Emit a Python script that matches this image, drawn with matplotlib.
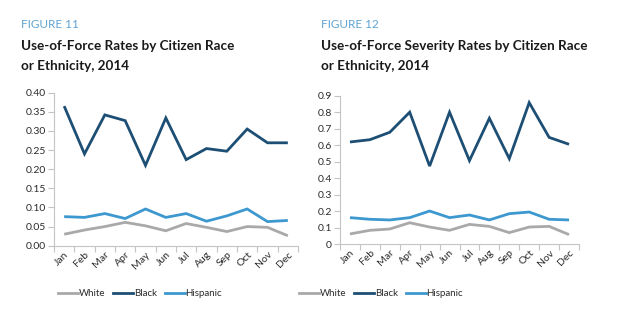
import matplotlib
matplotlib.use("Agg")
import matplotlib.pyplot as plt
from matplotlib.lines import Line2D

months = ["Jan", "Feb", "Mar", "Apr", "May", "Jun", "Jul", "Aug", "Sep", "Oct", "Nov", "Dec"]

# Figure 11: Use-of-force rates
rate_white = [0.030, 0.041, 0.050, 0.061, 0.052, 0.039, 0.058, 0.048, 0.037, 0.050, 0.048, 0.026]
rate_black = [0.365, 0.240, 0.342, 0.327, 0.210, 0.334, 0.225, 0.254, 0.247, 0.305, 0.269, 0.269]
rate_hisp = [0.076, 0.074, 0.084, 0.071, 0.096, 0.074, 0.084, 0.064, 0.078, 0.096, 0.063, 0.066]
rate_ticks = [0.00, 0.05, 0.10, 0.15, 0.20, 0.25, 0.30, 0.35, 0.40]
rate_ticklabels = ["0.00", "0.05", "0.10", "0.15", "0.20", "0.25", "0.30", "0.35", "0.40"]

# Figure 12: Use-of-force severity rates
sev_white = [0.061, 0.083, 0.091, 0.129, 0.103, 0.083, 0.119, 0.107, 0.069, 0.103, 0.107, 0.057]
sev_black = [0.619, 0.633, 0.678, 0.800, 0.473, 0.800, 0.506, 0.763, 0.518, 0.858, 0.647, 0.605]
sev_hisp = [0.160, 0.150, 0.146, 0.160, 0.200, 0.160, 0.176, 0.146, 0.184, 0.194, 0.150, 0.146]
sev_ticks = [0, 0.1, 0.2, 0.3, 0.4, 0.5, 0.6, 0.7, 0.8, 0.9]
sev_ticklabels = ["0", "0.1", "0.2", "0.3", "0.4", "0.5", "0.6", "0.7", "0.8", "0.9"]

series_names = ["White", "Black", "Hispanic"]
colors = ["#a9a9a9", "#1d4e74", "#3d98cf"]

FONT = "Lato"
plt.rcParams["font.family"] = [FONT, "DejaVu Sans"]
text_color = "#2b2b2b"
spine_color = "#c4c4c4"

fig = plt.figure(figsize=(6.2, 3.21), dpi=100)
W, H = 620, 321


def ax_rect(l, r, t, b):
    return [l / W, 1 - b / H, (r - l) / W, (b - t) / H]


def draw(ax, white, black, hisp, ticks, ticklabels, ymax):
    x = list(range(len(months)))
    for vals, c in zip([white, black, hisp], colors):
        ax.plot(x, vals, color=c, lw=2.0, solid_joinstyle="miter", solid_capstyle="butt")
    ax.set_xlim(-0.5, len(months) - 0.5)
    ax.set_ylim(0, ymax)
    ax.set_yticks(ticks)
    ax.set_yticklabels(ticklabels, fontsize=7.5, color=text_color)
    ax.set_xticks([i - 0.5 for i in range(len(months) + 1)])
    ax.set_xticklabels([])
    ax.set_xticks(x, minor=True)
    ax.set_xticklabels(months, minor=True, rotation=45, ha="right", va="top",
                       rotation_mode="anchor", fontsize=7.5, color=text_color)
    ax.tick_params(axis="x", which="minor", length=0, pad=3)
    ax.tick_params(axis="x", which="major", length=4, color=spine_color, width=0.8)
    ax.tick_params(axis="y", length=4, color=spine_color, width=0.8, pad=2)
    for s in ["top", "right"]:
        ax.spines[s].set_visible(False)
    for s in ["left", "bottom"]:
        ax.spines[s].set_color(spine_color)
        ax.spines[s].set_linewidth(0.8)
    ax.set_facecolor("none")


ax1 = fig.add_axes(ax_rect(54, 298, 92.7, 245.7))
draw(ax1, rate_white, rate_black, rate_hisp, rate_ticks, rate_ticklabels, 0.40)
ax2 = fig.add_axes(ax_rect(340, 579, 95.7, 244))
draw(ax2, sev_white, sev_black, sev_hisp, sev_ticks, sev_ticklabels, 0.9)

# Titles
fig_blue = "#5fa3d3"
fig.text(21 / W, 1 - 24 / H, "FIGURE 11", color=fig_blue, fontsize=8.5, va="center", ha="left")
fig.text(21 / W, 1 - 46 / H, "Use-of-Force Rates by Citizen Race", color="#1a1a1a",
         fontsize=9.7, fontweight="bold", va="center", ha="left")
fig.text(21 / W, 1 - 66 / H, "or Ethnicity, 2014", color="#1a1a1a",
         fontsize=9.7, fontweight="bold", va="center", ha="left")
fig.text(321 / W, 1 - 24 / H, "FIGURE 12", color=fig_blue, fontsize=8.5, va="center", ha="left")
fig.text(321 / W, 1 - 46 / H, "Use-of-Force Severity Rates by Citizen Race", color="#1a1a1a",
         fontsize=9.7, fontweight="bold", va="center", ha="left")
fig.text(321 / W, 1 - 66 / H, "or Ethnicity, 2014", color="#1a1a1a",
         fontsize=9.7, fontweight="bold", va="center", ha="left")

# Legends
handles = [Line2D([], [], color=c, lw=2.0) for c in colors]
for cx in [140, 381]:
    leg = fig.legend(handles, series_names, loc="center", bbox_to_anchor=(cx / W, 1 - 294 / H),
                     ncol=3, frameon=False, fontsize=7, handlelength=2.1, handletextpad=0.05,
                     columnspacing=0.8)
    for t in leg.get_texts():
        t.set_color(text_color)

fig.savefig("out.png", dpi=100, facecolor="white")
